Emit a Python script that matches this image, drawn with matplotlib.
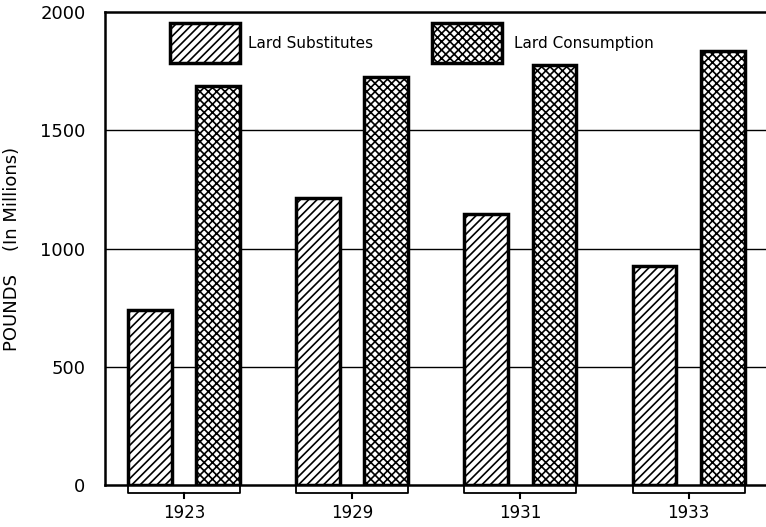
import matplotlib
matplotlib.use("Agg")
import matplotlib.pyplot as plt
import numpy as np
from matplotlib.patches import Rectangle

years = ["1923", "1929", "1931", "1933"]
substitutes = [740, 1215, 1145, 925]
consumption = [1690, 1725, 1775, 1835]
yticks = [0, 500, 1000, 1500, 2000]
series_names = ["Lard Substitutes", "Lard Consumption"]

plt.rcParams['hatch.linewidth'] = 1.2
fig = plt.figure(figsize=(7.66, 5.27), dpi=100)
ax = fig.add_axes([0.137, 0.0797, 0.863, 0.897])

x = np.arange(len(years))
w = 0.26
off = 0.203
ax.bar(x - off, substitutes, w, facecolor="white", edgecolor="black", linewidth=2.5, hatch="////", zorder=3)
ax.bar(x + off, consumption, w, facecolor="white", edgecolor="black", linewidth=2.5, hatch="xxxx", zorder=3)

ax.set_xlim(-0.47, 3.46)
ax.set_ylim(0, 2000)
for yv in yticks[1:-1]:
    ax.axhline(yv, color="black", lw=1.0, zorder=1)

ax.set_yticks(yticks)
ax.set_yticklabels([str(v) for v in yticks], fontsize=13)
ax.tick_params(axis="y", length=0, pad=14)
ax.set_xticks([])
ax.spines["right"].set_visible(False)
for s in ["left", "bottom", "top"]:
    ax.spines[s].set_linewidth(1.8)

ax.set_ylabel("POUNDS    (In Millions)", fontsize=13, labelpad=14)

# braces + year labels
for i, yr in enumerate(years):
    l = i - off - w / 2
    r = i + off + w / 2
    ax.plot([l, l, r, r], [-6, -34, -34, -6], color="black", lw=1.3, clip_on=False)
    ax.plot([i, i], [-34, -56], color="black", lw=1.5, clip_on=False)
    ax.text(i, -118, yr, ha="center", va="center", fontsize=12)

# legend
leg = [(-0.083, 0.38, series_names[0], "////"), (1.476, 1.96, series_names[1], "xxxx")]
for xs, xt, name, h in leg:
    ax.add_patch(Rectangle((xs, 1786), 0.417, 168, facecolor="white", edgecolor="black",
                           lw=2.5, hatch=h, zorder=4))
    ax.text(xt, 1870, name, fontsize=11, va="center", ha="left", zorder=4)

fig.savefig("out.png", dpi=100)
